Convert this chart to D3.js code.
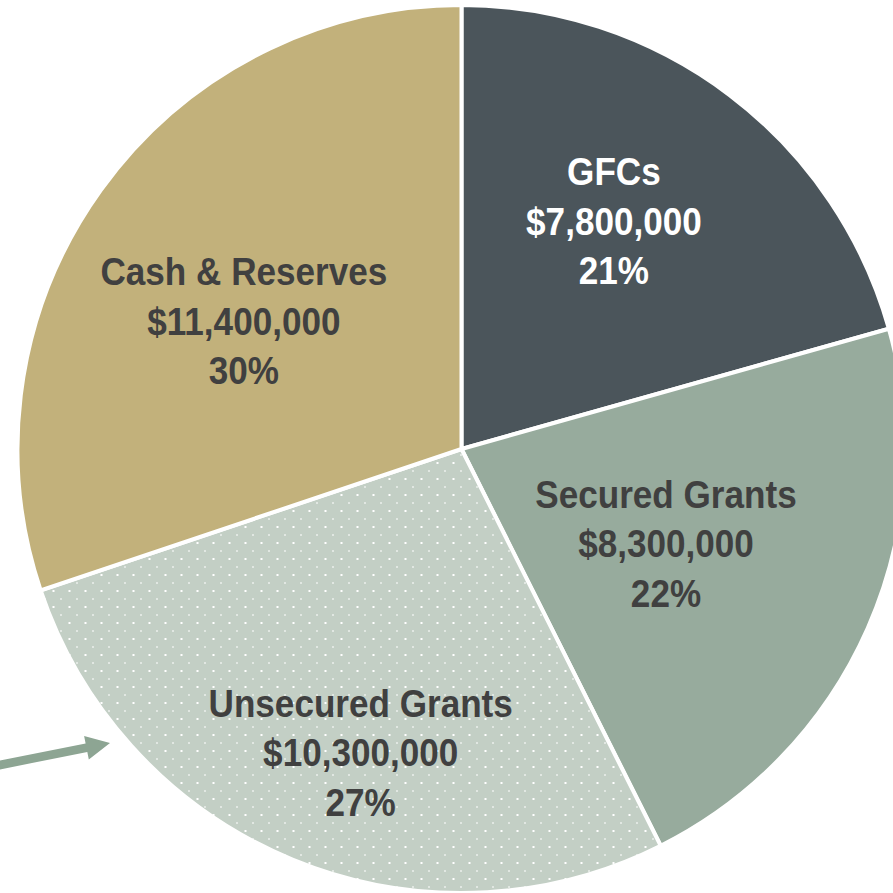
<!DOCTYPE html>
<html>
<head>
<meta charset="utf-8">
<script src="https://cdn.jsdelivr.net/npm/d3@7"></script>
<style>
  html, body { margin: 0; padding: 0; background: #ffffff; }
  svg { display: block; }
</style>
</head>
<body>
<svg id="chart" width="893" height="893"></svg>
<script>
const categories = ["GFCs", "Secured Grants", "Unsecured Grants", "Cash & Reserves"];
const values = [7800000, 8300000, 10300000, 11400000];
const valueLabels = ["$7,800,000", "$8,300,000", "$10,300,000", "$11,400,000"];
const percentLabels = ["21%", "22%", "27%", "30%"];
const colors = ["#4b555b", "#97ab9d", "#c3cfc5", "#c2b17b"];
const textColors = ["#ffffff", "#404040", "#404040", "#404040"];

const svg = d3.select("#chart");
const cx = 461.5, cy = 449, R = 444;

const defs = svg.append("defs");
const pat = defs.append("pattern")
  .attr("id", "dots").attr("patternUnits", "userSpaceOnUse")
  .attr("width", 16).attr("height", 16);
pat.append("rect").attr("width", 16).attr("height", 16).attr("fill", colors[2]);
pat.append("rect").attr("x", 7).attr("y", 13).attr("width", 2).attr("height", 2).attr("fill", "#ffffff");
pat.append("rect").attr("x", 15).attr("y", 5).attr("width", 2).attr("height", 2).attr("fill", "#ffffff");

const data = categories.map((c, i) => ({ cat: c, value: values[i], i }));
const pie = d3.pie().sort(null).value(d => d.value);
const arcs = pie(data);
const arc = d3.arc().innerRadius(0).outerRadius(R);

const g = svg.append("g").attr("transform", `translate(${cx},${cy})`);
g.selectAll("path.slice").data(arcs).join("path")
  .attr("class", "slice")
  .attr("d", arc)
  .attr("fill", d => d.data.i === 2 ? "url(#dots)" : colors[d.data.i])
  .attr("stroke", "#ffffff")
  .attr("stroke-width", 4)
  .attr("stroke-linejoin", "miter");

// label placement: radial fraction of R and angular shift (deg) from slice middle
const labelArc = [0.618, 0.507, 0.72, 0.569];
const labelAngleShift = [-3.4, 0.9, -4.0, -5.2];
const fontFamily = "'Liberation Sans Narrow', 'Arial Narrow', 'Liberation Sans', Arial, sans-serif";
const lineGap = 49.5;

arcs.forEach(a => {
  const i = a.data.i;
  const mid = (a.startAngle + a.endAngle) / 2 + labelAngleShift[i] * Math.PI / 180;
  const r = R * labelArc[i];
  const x = Math.sin(mid) * r;
  const y = -Math.cos(mid) * r;
  const t = g.append("text")
    .attr("transform", `translate(${x},${y}) scale(0.9,1)`)
    .attr("text-anchor", "middle")
    .attr("font-family", fontFamily)
    .attr("font-weight", "bold")
    .attr("font-size", 39)
    .attr("fill", textColors[i]);
  [a.data.cat, valueLabels[i], percentLabels[i]].forEach((s, k) => {
    t.append("tspan").attr("x", 0).attr("y", (k - 1) * lineGap).attr("dy", "0.36em").text(s);
  });
});

// arrow annotation
const arrowColor = "#8da593";
const ax0 = 0, ay0 = 765, ax1 = 110, ay1 = 743;
const ang = Math.atan2(ay1 - ay0, ax1 - ax0);
const headLen = 24, headHalf = 12, shaftHalf = 4.3;
const ux = Math.cos(ang), uy = Math.sin(ang), px = -uy, py = ux;
const bx = ax1 - ux * headLen, by = ay1 - uy * headLen;
const pts = [
  [ax0 - ux * 10 + px * shaftHalf, ay0 - uy * 10 + py * shaftHalf],
  [bx + px * shaftHalf, by + py * shaftHalf],
  [bx + px * headHalf, by + py * headHalf],
  [ax1, ay1],
  [bx - px * headHalf, by - py * headHalf],
  [bx - px * shaftHalf, by - py * shaftHalf],
  [ax0 - ux * 10 - px * shaftHalf, ay0 - uy * 10 - py * shaftHalf]
];
svg.append("path").attr("d", d3.line()(pts) + "Z").attr("fill", arrowColor);
</script>
</body>
</html>
